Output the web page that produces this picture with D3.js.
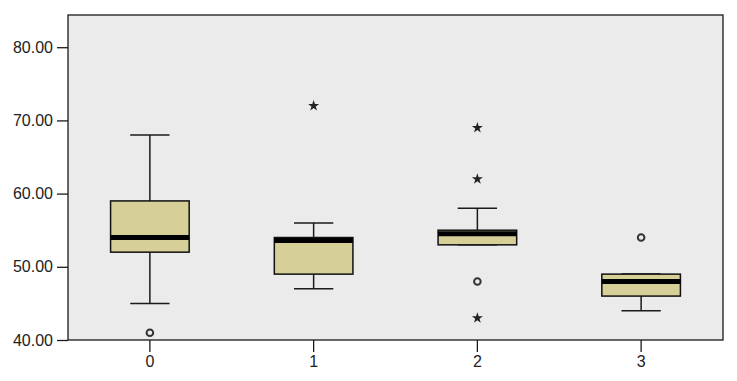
<!DOCTYPE html>
<html><head><meta charset="utf-8">
<script src="https://cdn.jsdelivr.net/npm/d3@7"></script>
<style>body{margin:0;background:#fff}svg{display:block}text{font-family:"Liberation Sans",Arial,sans-serif}</style>
</head><body><svg id="c" width="737" height="381"></svg>
<script>
const categories = ["0","1","2","3"];
const q1 =       [52, 49, 53, 46];
const median =   [54, 53.6, 54.5, 48];
const q3 =       [59, 54, 55, 49];
const whiskLo =  [45, 47, 53, 44];
const whiskHi =  [68, 56, 58, 49];
const circleOutliers = [[41], [], [48], [54]];
const starOutliers =   [[], [72], [69, 62, 43], []];
const yTicks = [40, 50, 60, 70, 80];

const W = 737, H = 381;
const m = {l: 68, r: 14, t: 15, b: 41};
const svg = d3.select("#c");
const x = d3.scaleBand().domain(categories).range([m.l, W - m.r]).padding(0);
const y = d3.scaleLinear().domain([40, 84.4]).range([H - m.b, m.t]);

svg.append("rect").attr("x", m.l).attr("y", m.t).attr("width", W - m.l - m.r).attr("height", H - m.t - m.b)
  .attr("fill", "#ebebeb").attr("stroke", "#1a1a1a").attr("stroke-width", 1.3);

const yAx = svg.append("g").attr("transform", `translate(${m.l},0)`)
  .call(d3.axisLeft(y).tickValues(yTicks).tickFormat(d3.format(".2f")).tickSize(11).tickPadding(4));
const xAx = svg.append("g").attr("transform", `translate(0,${H - m.b})`)
  .call(d3.axisBottom(x).tickSize(12).tickPadding(4));
[yAx, xAx].forEach(g => {
  g.select(".domain").remove();
  g.selectAll("line").attr("stroke", "#1a1a1a").attr("stroke-width", 1.3);
  g.selectAll("text").attr("fill", "#222").style("font-size", "16px").style("font-family", '"Liberation Sans",Arial,sans-serif');
});

const bw = x.bandwidth() * 0.48, cw = bw / 2;
categories.forEach((c, i) => {
  const cx = x(c) + x.bandwidth() / 2;
  const g = svg.append("g");
  g.append("line").attr("x1", cx).attr("x2", cx).attr("y1", y(whiskHi[i])).attr("y2", y(q3[i])).attr("stroke", "#1a1a1a").attr("stroke-width", 1.5);
  g.append("line").attr("x1", cx).attr("x2", cx).attr("y1", y(whiskLo[i])).attr("y2", y(q1[i])).attr("stroke", "#1a1a1a").attr("stroke-width", 1.5);
  [whiskHi[i], whiskLo[i]].forEach(v => g.append("line").attr("x1", cx - cw / 2).attr("x2", cx + cw / 2).attr("y1", y(v)).attr("y2", y(v)).attr("stroke", "#1a1a1a").attr("stroke-width", 1.5));
  g.append("rect").attr("x", cx - bw / 2).attr("width", bw).attr("y", y(q3[i])).attr("height", y(q1[i]) - y(q3[i]))
    .attr("fill", "#d6cf98").attr("stroke", "#111").attr("stroke-width", 1.5);
  g.append("line").attr("x1", cx - bw / 2).attr("x2", cx + bw / 2).attr("y1", y(median[i])).attr("y2", y(median[i])).attr("stroke", "#000").attr("stroke-width", 5);
  circleOutliers[i].forEach(v => g.append("circle").attr("cx", cx).attr("cy", y(v)).attr("r", 3.3).attr("fill", "none").attr("stroke", "#333").attr("stroke-width", 2));
  starOutliers[i].forEach(v => g.append("path").attr("d", d3.symbol(d3.symbolStar, 38)()).attr("transform", `translate(${cx},${y(v)})`).attr("fill", "#222"));
});
</script></body></html>
